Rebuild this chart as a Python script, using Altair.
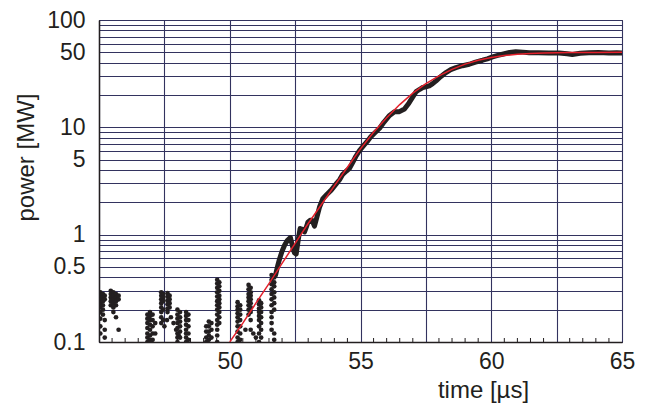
import altair as alt
import pandas as pd

# ---------------- data ----------------
# noisy low-level samples: columns of dots (time in us, power in MW)
noise_t = (
    [45.05] * 9 + [45.15] * 6 + [45.22] * 5 +
    [45.45] * 5 + [45.55] * 6 + [45.65] * 5 + [45.75] * 3 +
    [46.85] * 7 + [46.95] * 7 + [47.05] * 5 + [47.15] * 2 +
    [47.38] * 8 + [47.45] * 5 + [47.62] * 6 + [47.70] * 4 +
    [47.75, 47.85, 47.95, 48.05, 47.60, 47.50] +
    [48.00] * 8 + [48.10] * 6 +
    [48.33] * 8 + [48.42] * 5 +
    [49.10] * 4 + [49.20] * 5 + [49.30] * 3 +
    [49.52] * 14 + [49.60] * 10 +
    [50.30] * 10 + [50.40] * 7 +
    [50.72] * 8 + [50.80] * 9 + [50.60, 50.90, 51.00] +
    [51.12] * 9 + [51.20] * 7 +
    [51.60] * 11 + [51.70] * 9
)
noise_p = (
    [0.29, 0.27, 0.25, 0.23, 0.21, 0.19, 0.165, 0.14, 0.12] +
    [0.28, 0.26, 0.24, 0.22, 0.20, 0.18] +
    [0.27, 0.25, 0.16, 0.13, 0.11] +
    [0.30, 0.28, 0.26, 0.24, 0.22] +
    [0.29, 0.27, 0.25, 0.23, 0.21, 0.19] +
    [0.28, 0.26, 0.24, 0.22, 0.17] +
    [0.27, 0.25, 0.13] +
    [0.18, 0.165, 0.15, 0.135, 0.12, 0.11, 0.10] +
    [0.19, 0.175, 0.16, 0.145, 0.13, 0.115, 0.105] +
    [0.18, 0.16, 0.14, 0.12, 0.105] +
    [0.15, 0.12] +
    [0.29, 0.27, 0.25, 0.23, 0.21, 0.19, 0.17, 0.15] +
    [0.28, 0.26, 0.24, 0.20, 0.16] +
    [0.285, 0.265, 0.245, 0.225, 0.205, 0.19] +
    [0.27, 0.25, 0.23, 0.21] +
    [0.17, 0.15, 0.13, 0.115, 0.16, 0.14] +
    [0.20, 0.18, 0.165, 0.15, 0.135, 0.12, 0.11, 0.10] +
    [0.19, 0.17, 0.155, 0.14, 0.125, 0.11] +
    [0.19, 0.175, 0.16, 0.145, 0.13, 0.12, 0.11, 0.10] +
    [0.18, 0.16, 0.14, 0.12, 0.105] +
    [0.14, 0.125, 0.11, 0.10] +
    [0.155, 0.14, 0.125, 0.115, 0.105] +
    [0.15, 0.13, 0.11] +
    [0.38, 0.35, 0.32, 0.29, 0.265, 0.24, 0.22, 0.20, 0.18, 0.16, 0.145, 0.13, 0.115, 0.10] +
    [0.36, 0.33, 0.30, 0.27, 0.25, 0.23, 0.21, 0.19, 0.17, 0.15] +
    [0.235, 0.215, 0.20, 0.185, 0.17, 0.155, 0.14, 0.125, 0.11, 0.10] +
    [0.22, 0.20, 0.18, 0.16, 0.14, 0.12, 0.105] +
    [0.34, 0.31, 0.28, 0.26, 0.24, 0.22, 0.20, 0.18] +
    [0.32, 0.29, 0.27, 0.25, 0.23, 0.21, 0.19, 0.16, 0.13] +
    [0.13, 0.12, 0.11] +
    [0.245, 0.225, 0.205, 0.19, 0.175, 0.16, 0.14, 0.12, 0.10] +
    [0.23, 0.21, 0.19, 0.17, 0.15, 0.13, 0.11] +
    [0.42, 0.38, 0.345, 0.31, 0.28, 0.25, 0.22, 0.19, 0.17, 0.15, 0.13] +
    [0.40, 0.36, 0.33, 0.29, 0.26, 0.23, 0.20, 0.12, 0.105]
)

# measured signal above the noise floor
sig_t = [51.75, 51.84, 51.91, 52.00, 52.10, 52.20, 52.32, 52.40, 52.47, 52.54,
         52.62, 52.69, 52.78, 52.86, 52.93, 52.99, 53.07, 53.15, 53.24, 53.33,
         53.43, 53.56, 53.72, 53.88, 54.07, 54.20, 54.32, 54.45, 54.58, 54.70,
         54.82, 54.96, 55.15, 55.28, 55.40, 55.55, 55.73, 55.90, 56.11, 56.30,
         56.49, 56.68, 56.85, 57.00, 57.13, 57.25, 57.38, 57.50, 57.63, 57.76,
         57.89, 58.05, 58.27, 58.45, 58.65, 58.90, 59.16, 59.40, 59.67, 59.85,
         60.05, 60.25, 60.43, 60.70, 60.94, 61.20, 61.45, 61.80, 62.20, 62.60,
         62.90, 63.10, 63.40, 63.74, 64.10, 64.50, 64.80, 65.00]
sig_p = [0.42, 0.52, 0.60, 0.70, 0.80, 0.88, 0.94, 0.78, 0.68, 0.66,
         0.90, 1.14, 1.12, 1.06, 1.18, 1.31, 1.36, 1.36, 1.20, 1.45,
         1.80, 2.16, 2.38, 2.60, 2.97, 3.25, 3.65, 3.90, 4.15, 4.70,
         5.35, 6.07, 6.90, 7.50, 8.20, 8.90, 9.80, 11.2, 12.9, 14.0,
         14.0, 14.8, 16.8, 19.2, 21.5, 22.5, 23.5, 23.8, 24.3, 25.5,
         27.1, 29.5, 32.4, 34.5, 36.0, 37.5, 38.7, 40.5, 42.2, 43.5,
         45.3, 46.8, 48.0, 49.8, 50.7, 50.2, 49.5, 49.6, 49.2, 49.3,
         48.4, 47.8, 49.0, 49.5, 49.8, 49.2, 49.5, 49.3]

# fitted curve (red)
fit_t = [50.0, 50.5, 51.0, 51.5, 52.0, 52.5, 53.0, 53.5, 54.0, 54.5,
         55.0, 55.5, 56.0, 56.5, 57.0, 57.5, 58.0, 58.5, 59.0, 59.5,
         60.0, 60.5, 61.0, 61.5, 62.0, 63.0, 64.0, 65.0]
fit_p = [0.10, 0.15, 0.23, 0.35, 0.54, 0.83, 1.27, 1.90, 2.85, 4.25,
         6.30, 9.00, 12.3, 16.3, 20.8, 25.5, 30.2, 34.7, 38.8, 42.2,
         44.8, 46.6, 48.0, 48.8, 49.3, 49.7, 49.9, 50.0]

# axis grid / tick positions
x_grid = [45, 47.5, 50, 52.5, 55, 57.5, 60, 62.5, 65]
x_minor = [45.5, 46, 46.5, 47, 48, 48.5, 49, 49.5, 50.5, 51, 51.5, 52, 53, 53.5,
           54, 54.5, 55.5, 56, 56.5, 57, 58, 58.5, 59, 59.5, 60.5, 61, 61.5, 62,
           63, 63.5, 64, 64.5]
y_grid = [0.1, 0.2, 0.3, 0.4, 0.5, 0.6, 0.7, 0.8, 0.9,
          1, 2, 3, 4, 5, 6, 7, 8, 9,
          10, 20, 30, 40, 50, 60, 70, 80, 90, 100]
y_labels = [0.1, 0.5, 1, 5, 10, 50, 100]

# ---------------- chart ----------------
W, H = 523, 322
FONT = "Liberation Sans"
TXT = "#231f20"
GRID = "#33335f"

noise_df = pd.DataFrame({"t": noise_t, "P": noise_p})
sig_df = pd.DataFrame({"t": sig_t, "P": sig_p})
fit_df = pd.DataFrame({"t": fit_t, "P": fit_p})
minor_df = pd.DataFrame({"t": x_minor})

xs = alt.Scale(domain=[45, 65], nice=False, zero=False)
ys = alt.Scale(type="log", domain=[0.1, 100], nice=False)

label_list = ",".join(str(v) for v in y_labels)

x_axis = alt.Axis(
    values=x_grid, format=".0f",
    labelExpr="(datum.value % 5 == 0 && datum.value > 45) ? datum.label : ''",
    title="time [µs]", titleX=384, titleY=36, titleAlign="center", titleBaseline="top",
    grid=True, gridColor=GRID, gridWidth=1.1,
    ticks=False, tickSize=0, labelPadding=8, labelFlush=False, labelOverlap=False,
    domain=True, domainColor=TXT, domainWidth=1.5,
)
y_axis = alt.Axis(
    values=y_grid, format="~g",
    labelExpr="indexof([" + label_list + "], datum.value) >= 0 ? datum.label : ''",
    title="power [MW]", titleX=-73, titleY=137, titleAlign="center", titleBaseline="middle",
    titleAngle=270,
    grid=True, gridColor=GRID, gridWidth=1.1,
    ticks=False, tickSize=0, labelPadding=14, labelFlush=False, labelOverlap=False,
    domain=True, domainColor=TXT, domainWidth=1.5,
)

X = alt.X("t:Q", scale=xs, axis=x_axis)
Y = alt.Y("P:Q", scale=ys, axis=y_axis)

noise = alt.Chart(noise_df).mark_circle(size=22, color=TXT, opacity=1, clip=True).encode(x=X, y=Y)
signal = alt.Chart(sig_df).mark_line(
    color=TXT, strokeWidth=5, strokeCap="round", strokeJoin="round", clip=True
).encode(x=X, y=Y)
fit = alt.Chart(fit_df).mark_line(color="#e3202b", strokeWidth=1.5, clip=True).encode(x=X, y=Y)
minor = alt.Chart(minor_df).mark_rule(color=TXT, strokeWidth=1).encode(
    x=X, y=alt.value(H), y2=alt.value(H - 4)
)

chart = (
    alt.layer(minor, noise, signal, fit)
    .properties(
        width=W, height=H,
        autosize=alt.AutoSizeParams(type="none"),
        padding={"left": 91, "top": 12, "right": 17, "bottom": 62},
    )
    .configure_view(stroke=TXT, strokeWidth=1)
    .configure_axis(
        labelFont=FONT, titleFont=FONT, labelFontSize=23, titleFontSize=24,
        labelColor=TXT, titleColor=TXT, titleFontWeight="normal",
    )
)

chart.save("out.html", embed_options={"renderer": "svg", "actions": False})
